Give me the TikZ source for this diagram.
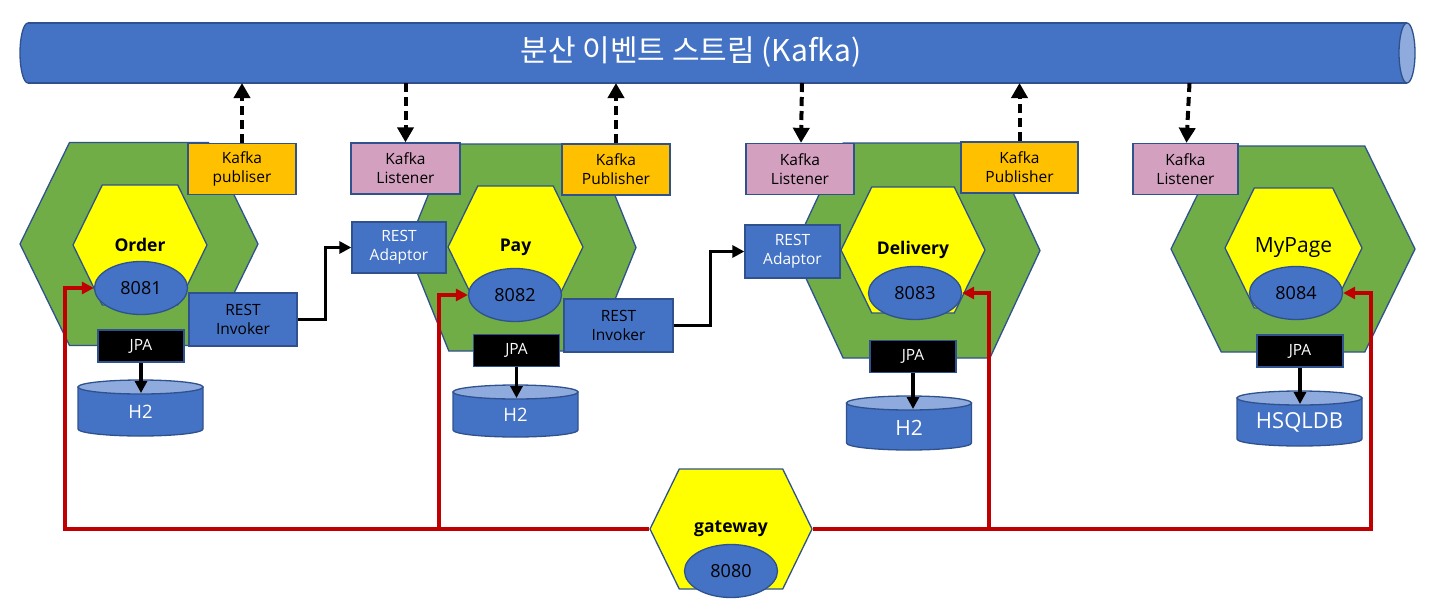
\documentclass[tikz,border=0pt]{standalone}
\usepackage{fontspec}
\setmainfont{Open Sans}
\newfontfamily\krfont{Noto Sans CJK KR}
\usepackage{tikz}
\usetikzlibrary{shapes,arrows.meta}

\definecolor{busblue}{HTML}{4472C4}
\definecolor{buslight}{HTML}{8FAADC}
\definecolor{edgeblue}{HTML}{2F528F}
\definecolor{svcgreen}{HTML}{70AD47}
\definecolor{coreyellow}{HTML}{FFFF00}
\definecolor{puborange}{HTML}{FFC000}
\definecolor{subpink}{HTML}{D4A0C0}
\definecolor{routered}{HTML}{C00000}

\tikzset {
    style Pipe/.style={
        fill=busblue,
        draw=edgeblue,
        line width=1.3pt,
    },
    style Hex/.style={
        fill=svcgreen,
        draw=edgeblue,
        line width=1.3pt,
        signal, % Set the shape as a hexagon
        signal to=west and east,
        signal pointer angle=128,
        inner sep=0pt,
    },
    style Core/.style={
        fill=coreyellow,
        draw=edgeblue,
        line width=1.3pt,
        signal, % Set the shape as a hexagon
        signal to=west and east,
        signal pointer angle=128,
        inner sep=0pt,
        font=\fontsize{17.5}{21}\selectfont\bfseries,
    },
    style Port/.style={
        fill=busblue,
        draw=edgeblue,
        line width=1.3pt,
        ellipse, % Set the shape as an ellipse
        minimum width=93pt,
        minimum height=53pt,
        inner sep=0pt,
        font=\fontsize{18}{21}\selectfont,
    },
    style Pub/.style={
        fill=puborange,
        draw=edgeblue,
        line width=1.3pt,
        rectangle, % Set the shape as a rectangle
        minimum width=108pt,
        minimum height=51pt,
        inner sep=0pt,
        align=center,
        font=\fontsize{15.5}{19}\selectfont,
    },
    style Sub/.style={
        style Pub,
        fill=subpink,
    },
    style Rest/.style={
        fill=busblue,
        draw=edgeblue,
        line width=1.3pt,
        rectangle, % Set the shape as a rectangle
        minimum width=108pt,
        minimum height=53pt,
        inner sep=0pt,
        align=center,
        font=\fontsize{15.5}{19}\selectfont,
    },
    style Jpa/.style={
        fill=black,
        draw=edgeblue,
        line width=1.5pt,
        text=white,
        rectangle, % Set the shape as a rectangle
        minimum width=86pt,
        minimum height=32pt,
        inner sep=0pt,
        font=\fontsize{15.5}{19}\selectfont,
    },
    style Db/.style={
        fill=busblue,
        draw=edgeblue,
        line width=1.3pt,
    },
    style Dblabel/.style={
        text=white,
        inner sep=0pt,
        font=\fontsize{18.5}{22}\selectfont,
    },
    pics/store/.style={
        code={
            \draw [style Db] (-62.5,-#1+7) -- (-62.5,#1-7)
                arc [start angle=180, end angle=0, x radius=62.5, y radius=7]
                -- (62.5,-#1+7) -- cycle;
            \draw [style Db, fill=buslight] (0,-#1+7) ellipse [x radius=62.5, y radius=7];
        }
    },
    style Bus/.style={
        draw=black,
        line width=4pt,
        dash pattern=on 9pt off 5pt,
        -{Triangle[length=15pt,width=16pt]},
    },
}

\begin{document}
\begin{tikzpicture}
[x=1pt, y=-1pt, >={Triangle[length=12pt,width=12pt]},
call/.style={draw=black, line width=3.6pt, ->},
route/.style={draw=routered, line width=3.6pt, ->}]

\useasboundingbox (0,0) rectangle (1437,605);

% event bus
\draw [style Pipe] (28,53) ellipse [x radius=8, y radius=30];
\fill [busblue] (28,23) rectangle (1407,83);
\draw [style Pipe] (28,23) -- (1407,23) (28,83) -- (1407,83);
\draw [style Pipe, fill=buslight] (1407,53) ellipse [x radius=8, y radius=30];
\coordinate (bus) at (717,83);
\node [text=white, font=\krfont\fontsize{30}{34}\selectfont] (title) at (691,52) {분산 이벤트 스트림 (Kafka)};

% services
\node [style Hex, minimum width=238pt, minimum height=203pt] (hexO) at (139,244) {};
\node [style Hex, minimum width=229pt, minimum height=207pt, signal pointer angle=136] (hexP) at (521.5,247.5) {};
\node [style Hex, minimum width=247pt, minimum height=215pt, signal pointer angle=130] (hexD) at (916.5,250.5) {};
\node [style Hex, minimum width=244pt, minimum height=206pt] (hexM) at (1293,249) {};

\node [style Core, minimum width=134pt, minimum height=120pt] (order) at (140,245) {Order};
\node [style Core, minimum width=135pt, minimum height=122pt] (pay) at (515.5,247) {Pay};
\node [style Core, minimum width=144pt, minimum height=126pt] (delivery) at (913,250) {Delivery};
\node [style Core, minimum width=137pt, minimum height=120pt, font=\fontsize{21}{25}\selectfont] (mypage) at (1293.5,248) {MyPage};
\node [style Core, minimum width=162pt, minimum height=120pt] (gateway) at (731,529) {gateway};

\node [style Port] (portO) at (141,288) {8081};
\node [style Port] (portP) at (515,295) {8082};
\node [style Port] (portD) at (915,293) {8083};
\node [style Port] (portM) at (1296,293) {8084};
\node [style Port] (portG) at (731,571) {8080};

% kafka clients
\node [style Pub] (pubO) at (242,169) {Kafka\\publiser};
\node [style Sub, minimum width=109pt] (subP) at (405.5,168.5) {Kafka\\Listener};
\node [style Pub] (pubP) at (616,169.5) {Kafka\\Publisher};
\node [style Sub] (subD) at (800,169) {Kafka\\Listener};
\node [style Pub, minimum width=117pt] (pubD) at (1019.5,167.5) {Kafka\\Publisher};
\node [style Sub, minimum width=105pt] (subM) at (1185.5,169) {Kafka\\Listener};

% rest
\node [style Rest] (invO) at (243,319.5) {REST\\Invoker};
\node [style Rest, minimum width=94pt, minimum height=51pt, text=white] (adaP) at (399,247.5) {REST\\Adaptor};
\node [style Rest, minimum width=109pt] (invP) at (618.5,325.5) {REST\\Invoker};
\node [style Rest, minimum width=95pt, text=white] (adaD) at (792.5,251.5) {REST\\Adaptor};

% storage
\node [style Jpa] (jpaO) at (141,346) {JPA};
\node [style Jpa] (jpaP) at (516.5,350.5) {JPA};
\node [style Jpa] (jpaD) at (913,356.5) {JPA};
\node [style Jpa] (jpaM) at (1300,351) {JPA};

\pic at (140.5,408) {store=28};
\pic at (515.5,411) {store=26};
\pic at (909,423) {store=27};
\pic at (1299.5,418.5) {store=27.5};
\node [style Dblabel] (dbO) at (140.5,412) {H2};
\node [style Dblabel] (dbP) at (515.5,415) {H2};
\node [style Dblabel, font=\fontsize{21}{25}\selectfont] (dbD) at (909,428) {H2};
\node [style Dblabel, font=\fontsize{22}{26}\selectfont] (dbM) at (1299.5,422) {HSQLDB};
\coordinate (dbOtop) at (141,393);
\coordinate (dbPtop) at (516.5,398);
\coordinate (dbDtop) at (913,409);
\coordinate (dbMtop) at (1300,404);

% publish / subscribe
\draw [style Bus] (pubO.north) -- (pubO.north |- bus);
\draw [style Bus] (subP.north |- bus) -- (subP.north);
\draw [style Bus] (pubP.north) -- (pubP.north |- bus);
\draw [style Bus] ([xshift=2pt]subD.north |- bus) -- ([xshift=1pt]subD.north);
\draw [style Bus] (pubD.north) -- (pubD.north |- bus);
\draw [style Bus] ([xshift=4pt]subM.north |- bus) -- ([xshift=1pt]subM.north);

% rest calls
\draw [call] (invO.east) -- ++(28,0) |- (adaP.west);
\draw [call] (invP.east) -- ++(37,0) |- (adaD.west);

\draw [call] (jpaO.south) -- (dbOtop);
\draw [call] (jpaP.south) -- (dbPtop);
\draw [call] (jpaD.south) -- (dbDtop);
\draw [call] (jpaM.south) -- (dbMtop);

% gateway routes
\draw [route] (gateway.west) -| ([xshift=-29pt]portO.west) -- (portO.west);
\draw [route] ([xshift=-29pt]portP.west |- gateway.west) |- (portP.west);
\draw [route] (gateway.east) -| ([xshift=28pt]portM.east) -- (portM.east);
\draw [route] ([xshift=27pt]portD.east |- gateway.east) |- (portD.east);

\end{tikzpicture}
\end{document}
